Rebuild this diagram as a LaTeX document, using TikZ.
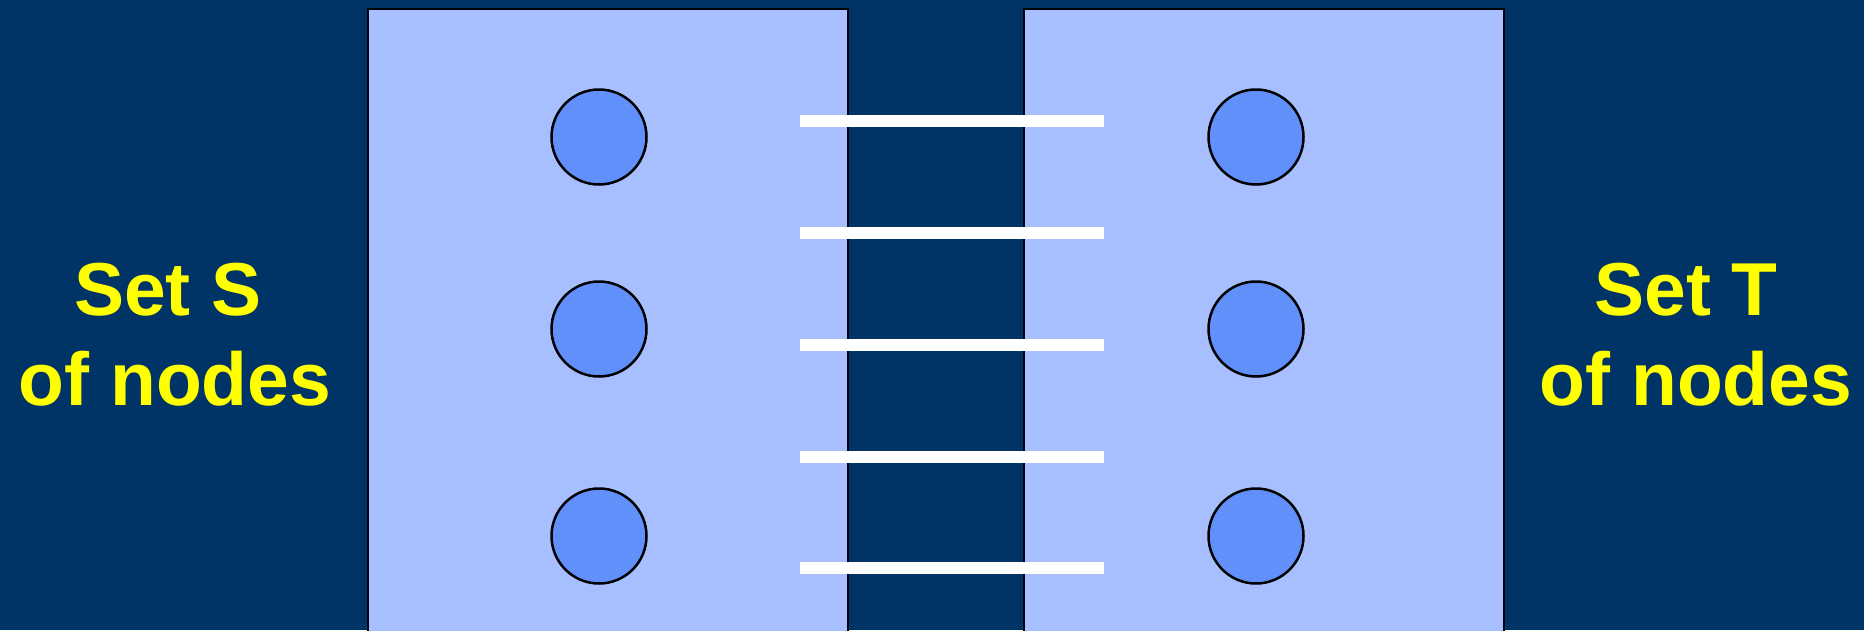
\documentclass[tikz,border=0pt]{standalone}
\usepackage{fontspec}
\setmainfont{Liberation Sans}
\definecolor{bgblue}{RGB}{0,51,102}
\definecolor{setfill}{RGB}{168,191,255}
\definecolor{nodefill}{RGB}{97,144,250}
\definecolor{labelyellow}{RGB}{255,255,0}
\begin{document}
\begin{tikzpicture}[x=1pt,y=-1pt,
  setbox/.style={draw=black,line width=2.5pt,fill=setfill},
  vertex/.style={circle,draw=black,line width=2.5pt,fill=nodefill,minimum size=95pt,inner sep=0pt},
  cutedge/.style={draw=white,line width=12pt},
  setlabel/.style={text=labelyellow,font=\bfseries\fontsize{75}{90}\selectfont,anchor=base,inner sep=0pt}]
\useasboundingbox (0,0) rectangle (1864,630);
\clip (0,0) rectangle (1864,630);
\fill[bgblue] (0,0) rectangle (1864,630);
\draw[setbox] (368,9) rectangle (848,660);
\draw[setbox] (1024,9) rectangle (1504,660);
\node[vertex] (s1) at (599,137) {};
\node[vertex] (s2) at (599,329) {};
\node[vertex] (s3) at (599,536) {};
\node[vertex] (t1) at (1256,137) {};
\node[vertex] (t2) at (1256,329) {};
\node[vertex] (t3) at (1256,536) {};
\foreach \i/\y in {1/121,2/233,3/345,4/457,5/568}{
  \coordinate (ea\i) at (800,\y);
  \coordinate (eb\i) at (1104,\y);
  \draw[cutedge] (ea\i) -- (eb\i);
}
\node[setlabel] (sS1) at (168,315) {Set S};
\node[setlabel] (sS2) at (175,405) {of nodes};
\node[setlabel] (sT1) at (1686,315) {Set T};
\node[setlabel] (sT2) at (1696,405) {of nodes};
\end{tikzpicture}
\end{document}
